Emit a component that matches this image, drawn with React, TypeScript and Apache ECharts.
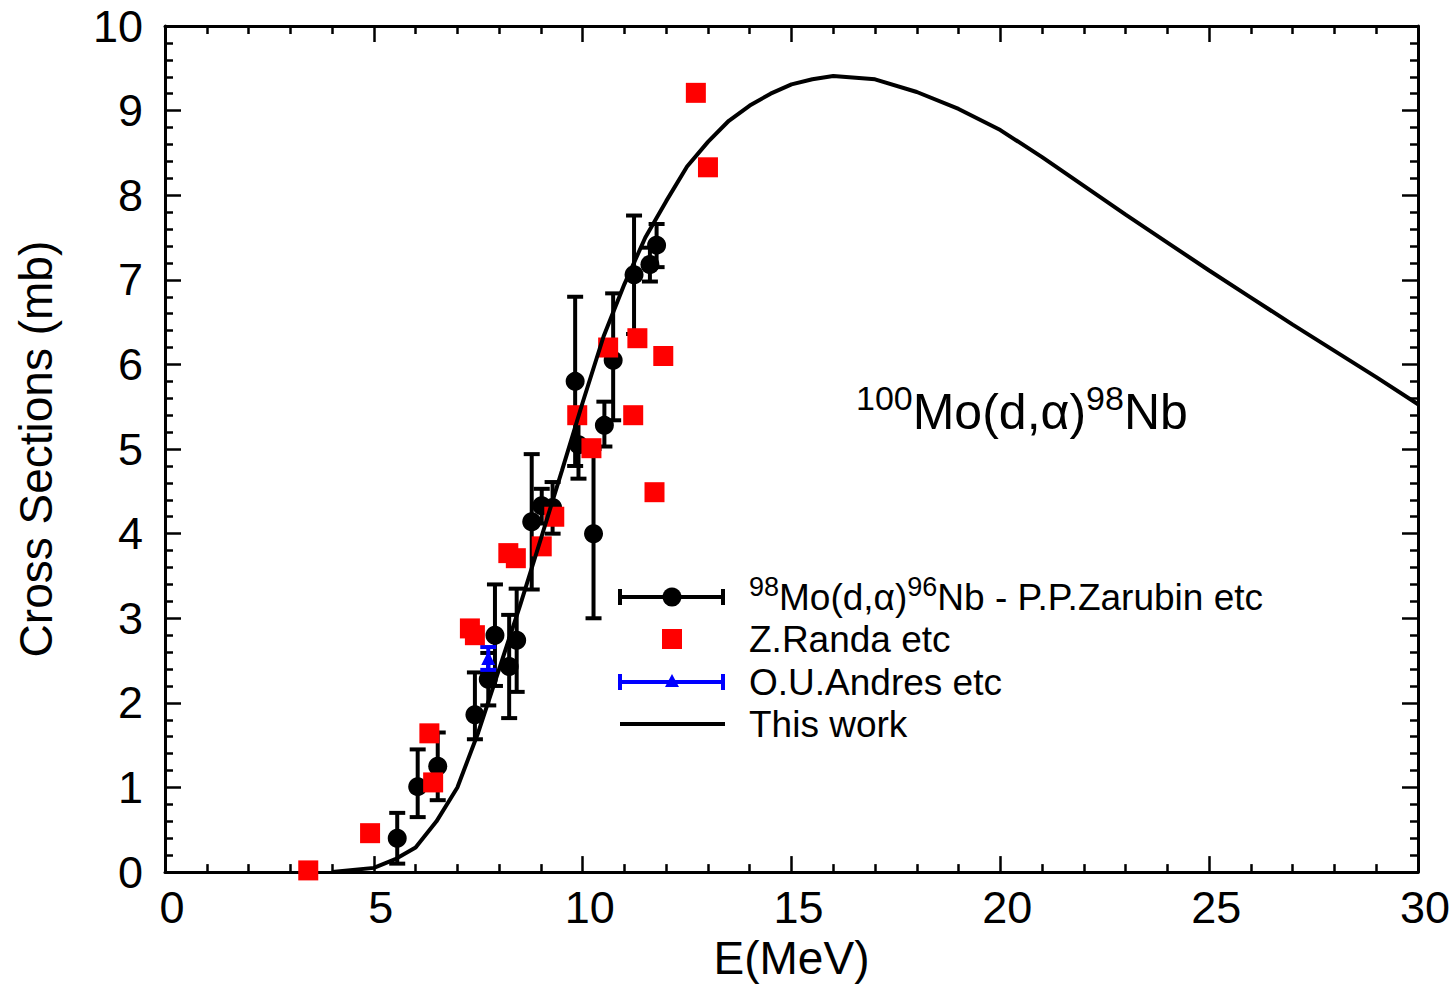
import React, { useEffect, useRef } from 'react';
import * as echarts from 'echarts';

// ---- Data ----
// P.P.Zarubin etc (98Mo(d,α)96Nb): energy, cross section, error bar low / high
const zarubinE = [5.56, 6.05, 6.53, 7.42, 7.74, 7.90, 8.24, 8.42, 8.78, 9.02, 9.28, 9.82, 9.90, 10.26, 10.52, 10.73, 11.23, 11.61, 11.77];
const zarubinSigma = [0.40, 1.01, 1.25, 1.86, 2.28, 2.80, 2.43, 2.74, 4.14, 4.33, 4.31, 5.80, 5.05, 4.00, 5.28, 6.05, 7.06, 7.18, 7.41];
const zarubinLow = [0.10, 0.65, 0.85, 1.57, 1.97, 2.20, 1.82, 2.13, 3.34, 4.12, 4.00, 4.80, 4.65, 3.00, 5.03, 5.34, 6.36, 6.98, 7.15];
const zarubinHigh = [0.70, 1.45, 1.65, 2.36, 2.59, 3.40, 3.04, 3.35, 4.94, 4.53, 4.61, 6.80, 5.45, 5.00, 5.56, 6.84, 7.76, 7.38, 7.66];

// Z.Randa etc
const randaE = [3.43, 4.91, 6.33, 6.42, 7.30, 7.42, 8.22, 8.40, 9.02, 9.32, 9.87, 10.21, 10.61, 11.21, 11.31, 11.72, 11.93, 12.71, 13.00];
const randaSigma = [0.02, 0.46, 1.64, 1.06, 2.88, 2.80, 3.77, 3.71, 3.85, 4.20, 5.40, 5.01, 6.20, 5.40, 6.31, 4.49, 6.10, 9.21, 8.33];

// O.U.Andres etc
const andresE = [7.74];
const andresSigma = [2.53];
const andresLow = [2.39];
const andresHigh = [2.66];

// This work (calculation)
const theoryE = [4, 5, 5.5, 6, 6.5, 7, 7.5, 8, 8.5, 9, 9.5, 10, 10.5, 11, 11.5, 12, 12.5, 13, 13.5, 14, 14.5, 15, 15.5, 16, 17, 18, 19, 20, 21, 22, 23, 24, 25, 26, 27, 28, 29, 30];
const theorySigma = [0, 0.05, 0.15, 0.29, 0.6, 1.0, 1.65, 2.4, 3.15, 3.94, 4.74, 5.55, 6.33, 6.95, 7.5, 7.93, 8.34, 8.63, 8.88, 9.06, 9.2, 9.31, 9.37, 9.41, 9.37, 9.22, 9.02, 8.77, 8.45, 8.11, 7.77, 7.44, 7.11, 6.79, 6.47, 6.16, 5.85, 5.53];

const FONT = '"Liberation Sans", Arial, Helvetica, sans-serif';

function errorBarSeries(E: number[], lo: number[], hi: number[], color: string, z: number) {
  return {
    type: 'custom',
    z,
    xAxisIndex: 0,
    yAxisIndex: 0,
    encode: { x: 0, y: [1, 2] },
    data: E.map((e, i) => [e, lo[i], hi[i]]),
    renderItem: (params: any, api: any) => {
      const x = api.value(0);
      const p1 = api.coord([x, api.value(1)]);
      const p2 = api.coord([x, api.value(2)]);
      const cw = 8;
      const style = { stroke: color, lineWidth: 4 };
      return {
        type: 'group',
        children: [
          { type: 'line', shape: { x1: p1[0], y1: p1[1], x2: p2[0], y2: p2[1] }, style },
          { type: 'line', shape: { x1: p1[0] - cw, y1: p1[1], x2: p1[0] + cw, y2: p1[1] }, style },
          { type: 'line', shape: { x1: p2[0] - cw, y1: p2[1], x2: p2[0] + cw, y2: p2[1] }, style },
        ],
      };
    },
  };
}

function makeAxis(kind: 'x' | 'y', pos: string, showLabel: boolean) {
  const isX = kind === 'x';
  return {
    type: 'value',
    position: pos,
    min: 0,
    max: isX ? 30 : 10,
    interval: isX ? 5 : 1,
    axisLine: { show: true, onZero: false, lineStyle: { color: '#000', width: 3 } },
    axisTick: { show: true, inside: true, length: 16, lineStyle: { color: '#000', width: 2.5 } },
    minorTick: { show: true, splitNumber: 5, length: 8, lineStyle: { color: '#000', width: 2.5 } },
    splitLine: { show: false },
    minorSplitLine: { show: false },
    axisLabel: showLabel
      ? {
          show: true,
          color: '#000',
          fontSize: 45,
          fontFamily: FONT,
          margin: isX ? 13 : 22,
          padding: isX ? [0, 0, 0, 14] : 0,
        }
      : { show: false },
  };
}

export default function App() {
  const ref = useRef<HTMLDivElement>(null);
  useEffect(() => {
    if (!ref.current) return;
    const chart = echarts.init(ref.current, undefined, { renderer: 'svg' });

    const xBottom: any = makeAxis('x', 'bottom', true);
    xBottom.name = 'E(MeV)';
    xBottom.nameLocation = 'middle';
    xBottom.nameGap = 61;
    xBottom.nameTextStyle = { fontSize: 46, fontFamily: FONT, color: '#000' };
    const yLeft: any = makeAxis('y', 'left', true);
    yLeft.name = 'Cross Sections (mb)';
    yLeft.nameLocation = 'middle';
    yLeft.nameGap = 106;
    yLeft.nameTextStyle = { fontSize: 46, fontFamily: FONT, color: '#000' };

    const legendTextRich = {
      t: { fontSize: 37, fontFamily: FONT, color: '#000', lineHeight: 48 },
      s: { fontSize: 27, fontFamily: FONT, color: '#000', lineHeight: 14, verticalAlign: 'top' },
    };
    const legX0 = 618;
    const legX1 = 725;
    const legC = 672;
    const rows = [597, 639, 682, 724];
    const textX = 749;

    const graphic: any[] = [
      // row 1: Zarubin
      { type: 'line', shape: { x1: legX0 + 2, y1: rows[0], x2: legX1 - 2, y2: rows[0] }, style: { stroke: '#000', lineWidth: 4 } },
      { type: 'line', shape: { x1: legX0 + 2, y1: rows[0] - 8, x2: legX0 + 2, y2: rows[0] + 8 }, style: { stroke: '#000', lineWidth: 4 } },
      { type: 'line', shape: { x1: legX1 - 2, y1: rows[0] - 8, x2: legX1 - 2, y2: rows[0] + 8 }, style: { stroke: '#000', lineWidth: 4 } },
      { type: 'circle', shape: { cx: legC, cy: rows[0], r: 9.5 }, style: { fill: '#000' } },
      {
        type: 'text', x: textX, y: rows[0],
        style: { text: '{s|98}{t|Mo(d,α)}{s|96}{t|Nb - P.P.Zarubin etc}', rich: legendTextRich, verticalAlign: 'middle', align: 'left' },
      },
      // row 2: Randa
      { type: 'rect', shape: { x: legC - 10, y: rows[1] - 10, width: 20, height: 20 }, style: { fill: '#ff0000' } },
      { type: 'text', x: textX, y: rows[1], style: { text: '{t|Z.Randa etc}', rich: legendTextRich, verticalAlign: 'middle', align: 'left' } },
      // row 3: Andres
      { type: 'line', shape: { x1: legX0 + 2, y1: rows[2], x2: legX1 - 2, y2: rows[2] }, style: { stroke: '#0000ff', lineWidth: 4 } },
      { type: 'line', shape: { x1: legX0 + 2, y1: rows[2] - 8, x2: legX0 + 2, y2: rows[2] + 8 }, style: { stroke: '#0000ff', lineWidth: 4 } },
      { type: 'line', shape: { x1: legX1 - 2, y1: rows[2] - 8, x2: legX1 - 2, y2: rows[2] + 8 }, style: { stroke: '#0000ff', lineWidth: 4 } },
      { type: 'polygon', shape: { points: [[legC, rows[2] - 8], [legC - 7, rows[2] + 5], [legC + 7, rows[2] + 5]] }, style: { fill: '#0000ff' } },
      { type: 'text', x: textX, y: rows[2], style: { text: '{t|O.U.Andres etc}', rich: legendTextRich, verticalAlign: 'middle', align: 'left' } },
      // row 4: This work
      { type: 'line', shape: { x1: legX0 + 2, y1: rows[3], x2: legX1, y2: rows[3] }, style: { stroke: '#000', lineWidth: 4 } },
      { type: 'text', x: textX, y: rows[3], style: { text: '{t|This work}', rich: legendTextRich, verticalAlign: 'middle', align: 'left' } },
      // annotation
      {
        type: 'text', x: 856, y: 412,
        style: {
          text: '{s|100}{t|Mo(d,α)}{s|98}{t|Nb}',
          rich: {
            t: { fontSize: 50, fontFamily: FONT, color: '#000', lineHeight: 62 },
            s: { fontSize: 34, fontFamily: FONT, color: '#000', lineHeight: 18, verticalAlign: 'top' },
          },
          verticalAlign: 'middle',
          align: 'left',
        },
      },
    ];

    chart.setOption({
      animation: false,
      backgroundColor: '#fff',
      grid: { left: 165, right: 38, top: 26, bottom: 107, containLabel: false },
      xAxis: [xBottom, makeAxis('x', 'top', false)],
      yAxis: [yLeft, makeAxis('y', 'right', false)],
      series: [
        errorBarSeries(zarubinE, zarubinLow, zarubinHigh, '#000', 2),
        {
          type: 'scatter', name: 'Zarubin', z: 2, symbol: 'circle', symbolSize: 19,
          itemStyle: { color: '#000', opacity: 1 },
          data: zarubinE.map((e, i) => [e, zarubinSigma[i]]),
        },
        errorBarSeries(andresE, andresLow, andresHigh, '#0000ff', 3),
        {
          type: 'scatter', name: 'Andres', z: 3, symbol: 'triangle', symbolSize: 14,
          itemStyle: { color: '#0000ff', opacity: 1 },
          data: andresE.map((e, i) => [e, andresSigma[i]]),
        },
        {
          type: 'scatter', name: 'Randa', z: 4, symbol: 'rect', symbolSize: 20,
          itemStyle: { color: '#ff0000', opacity: 1 },
          data: randaE.map((e, i) => [e, randaSigma[i]]),
        },
        {
          type: 'line', name: 'This work', z: 5, symbol: 'none', smooth: false,
          lineStyle: { color: '#000', width: 4 },
          data: theoryE.map((e, i) => [e, theorySigma[i]]),
        },
      ],
      graphic,
    });
    return () => chart.dispose();
  }, []);
  return <div ref={ref} style={{ position: 'absolute', left: 0, top: 0, width: 1456, height: 986 }} />;
}
